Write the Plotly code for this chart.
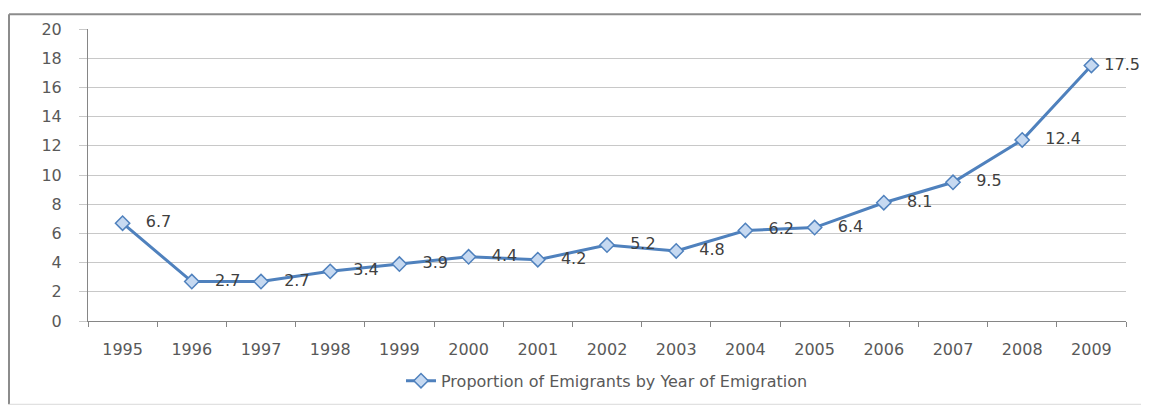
import plotly.graph_objects as go

years = ["1995", "1996", "1997", "1998", "1999", "2000", "2001", "2002",
         "2003", "2004", "2005", "2006", "2007", "2008", "2009"]
proportion = [6.7, 2.7, 2.7, 3.4, 3.9, 4.4, 4.2, 5.2, 4.8, 6.2, 6.4, 8.1, 9.5, 12.4, 17.5]
series_name = "Proportion of Emigrants by Year of Emigration"
y_ticks = [0, 2, 4, 6, 8, 10, 12, 14, 16, 18, 20]

# the page body has an 8px default margin, so the figure is sized/offset for it
OFF = 8
W, H = 1149 - OFF, 410 - OFF
L, T = 88 - OFF, 24 - OFF
R, B = W - (1126 - OFF), H - (322 - OFF)
pw, ph = W - L - R, H - T - B

FONT = "DejaVu Sans"

label_templates = ["   %{text}"] * (len(proportion) - 1) + [" %{text}"]

fig = go.Figure()
fig.add_trace(go.Scatter(
    x=years, y=proportion, name=series_name,
    mode="lines+markers+text",
    line=dict(color="#4F81BD", width=3),
    marker=dict(symbol="diamond", size=11, color="#C6D9F1",
                line=dict(color="#4F81BD", width=1.5)),
    text=[str(v) for v in proportion],
    texttemplate=label_templates,
    textposition="middle right",
    textfont=dict(family=FONT, size=16, color="#404040"),
    cliponaxis=False,
))

def px_x(xp):
    return (xp - OFF - L) / pw

def px_y(yp):
    return (H - B - (yp - OFF)) / ph

shapes = [
    dict(type="line", xref="paper", yref="paper", x0=px_x(9), x1=px_x(9),
         y0=px_y(407), y1=px_y(9), line=dict(color="#8C8C8C", width=2)),
    dict(type="line", xref="paper", yref="paper", x0=px_x(9), x1=px_x(1146),
         y0=px_y(9), y1=px_y(9), line=dict(color="#8C8C8C", width=2)),
    dict(type="line", xref="paper", yref="paper", x0=px_x(1146), x1=px_x(1146),
         y0=px_y(407), y1=px_y(9), line=dict(color="#D9D9D9", width=1)),
    dict(type="line", xref="paper", yref="paper", x0=px_x(9), x1=px_x(1146),
         y0=px_y(407), y1=px_y(407), line=dict(color="#D9D9D9", width=1)),
]

fig.update_layout(
    width=W, height=H,
    margin=dict(l=L, r=R, t=T, b=B, pad=0),
    paper_bgcolor="white", plot_bgcolor="white",
    font=dict(family=FONT, size=16, color="#595959"),
    showlegend=True,
    legend=dict(orientation="h", x=0.5, xanchor="center", y=px_y(383),
                yanchor="middle", font=dict(family=FONT, size=16, color="#595959")),
    shapes=shapes,
    xaxis=dict(
        type="category", range=[-0.5, 14.5],
        showgrid=False, zeroline=False,
        showline=True, linecolor="#868686", linewidth=1,
        ticks="outside", ticklen=5, tickcolor="#868686",
        tickson="boundaries", ticklabelstandoff=14,
        tickfont=dict(family=FONT, size=16, color="#595959"),
    ),
    yaxis=dict(
        range=[0, 20], tickvals=y_ticks,
        showgrid=True, gridcolor="#C8C8C8", gridwidth=1,
        zeroline=False,
        showline=True, linecolor="#868686", linewidth=1,
        ticks="outside", ticklen=8, tickcolor="#C8C8C8",
        ticklabelstandoff=14,
        tickfont=dict(family=FONT, size=16, color="#595959"),
    ),
)

fig.write_html("out.html")
